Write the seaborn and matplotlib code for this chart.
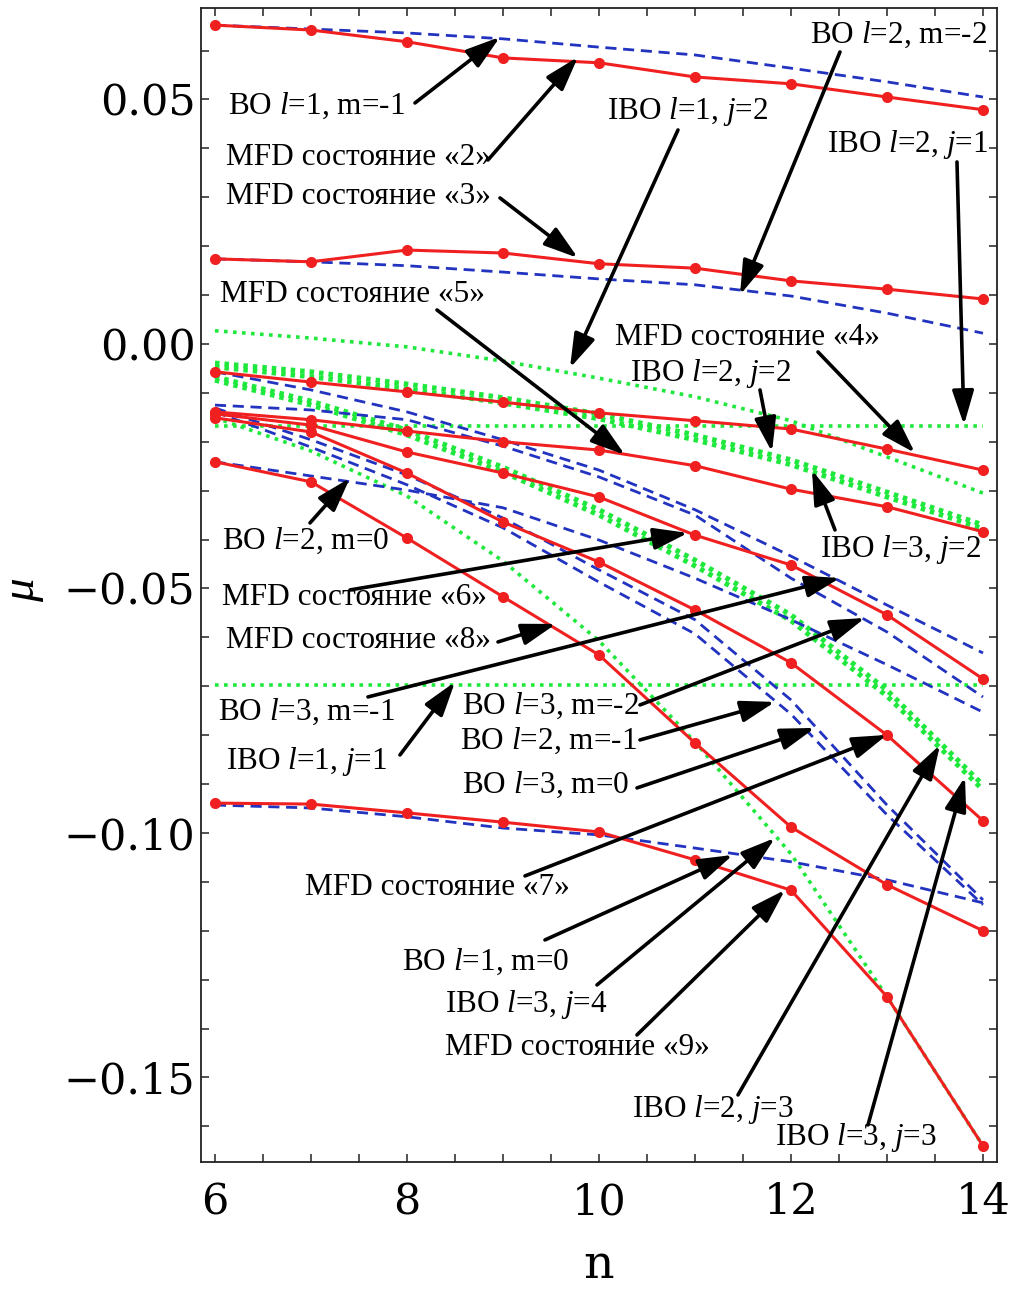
import numpy as np
import pandas as pd
import matplotlib
matplotlib.use("Agg")
import matplotlib.pyplot as plt
from matplotlib.ticker import MultipleLocator, FuncFormatter
import seaborn as sns

sns.set_theme(style="ticks")
plt.rcParams["font.family"] = ["Liberation Serif", "DejaVu Serif"]
plt.rcParams["mathtext.fontset"] = "custom"
plt.rcParams["mathtext.rm"] = "Liberation Serif"
plt.rcParams["mathtext.it"] = "Liberation Serif:italic"
plt.rcParams["text.color"] = "black"

# ---------------- data ----------------
n = [6, 7, 8, 9, 10, 11, 12, 13, 14]

# MFD states (red, markers)
mfd2 = [0.0652, 0.0642, 0.0618, 0.0585, 0.0575, 0.0546, 0.0532, 0.0505, 0.0479]
mfd3 = [0.0174, 0.0168, 0.0192, 0.0186, 0.0164, 0.0155, 0.0129, 0.0112, 0.0092]
mfd4 = [-0.0057, -0.0078, -0.0098, -0.0119, -0.0141, -0.0157, -0.0174, -0.0215, -0.0258]
mfd5 = [-0.0139, -0.0155, -0.0178, -0.0200, -0.0217, -0.0249, -0.0297, -0.0333, -0.0384]
mfd6 = [-0.0143, -0.0166, -0.0221, -0.0264, -0.0313, -0.0391, -0.0452, -0.0554, -0.0685]
mfd7 = [-0.0151, -0.0180, -0.0264, -0.0364, -0.0446, -0.0544, -0.0652, -0.0800, -0.0975]
mfd8 = [-0.0241, -0.0282, -0.0397, -0.0517, -0.0636, -0.0816, -0.0988, -0.1106, -0.1200]
mfd9 = [-0.0939, -0.0941, -0.0959, -0.0978, -0.0998, -0.1055, -0.1117, -0.1335, -0.1640]

# BO (blue dashed)
bo_l1_m1 = [0.0652, 0.0644, 0.0636, 0.0624, 0.0607, 0.0591, 0.0564, 0.0536, 0.0505]
bo_l2_m2 = [0.0174, 0.0168, 0.0160, 0.0147, 0.0133, 0.0121, 0.0098, 0.0063, 0.0022]
bo_l3_m1 = [-0.0057, -0.0094, -0.0139, -0.0196, -0.0258, -0.0339, -0.0434, -0.0534, -0.0632]
bo_l3_m2 = [-0.0125, -0.0135, -0.0155, -0.0209, -0.0272, -0.0350, -0.0479, -0.0589, -0.0722]
bo_l2_m0 = [-0.0241, -0.0270, -0.0299, -0.0335, -0.0401, -0.0479, -0.0564, -0.0656, -0.0753]
bo_l2_m1 = [-0.0131, -0.0196, -0.0268, -0.0356, -0.0462, -0.0564, -0.0728, -0.0943, -0.1137]
bo_l3_m0 = [-0.0139, -0.0211, -0.0288, -0.0376, -0.0487, -0.0593, -0.0757, -0.0963, -0.1147]
bo_l1_m0 = [-0.0943, -0.0949, -0.0967, -0.0990, -0.1004, -0.1031, -0.1059, -0.1096, -0.1143]

# IBO (green dotted)
ibo_l1_j2 = [0.0027, 0.0012, -0.0006, -0.0035, -0.0070, -0.0108, -0.0157, -0.0231, -0.0305]
ibo_l2_j1 = [-0.0168] * 9
ibo_l1_j1 = [-0.0697] * 9
ibo_l2_j2 = [-0.0039, -0.0057, -0.0082, -0.0110, -0.0143, -0.0186, -0.0237, -0.0303, -0.0370]
ibo_l3_j2 = [-0.0047, -0.0067, -0.0092, -0.0121, -0.0153, -0.0196, -0.0247, -0.0313, -0.0378]
ibo_l2_j3 = [-0.0067, -0.0117, -0.0176, -0.0252, -0.0339, -0.0442, -0.0554, -0.0708, -0.0902]
ibo_l3_j3 = [-0.0074, -0.0125, -0.0186, -0.0262, -0.0350, -0.0454, -0.0566, -0.0720, -0.0912]
ibo_l3_j4 = [-0.0151, -0.0219, -0.0311, -0.0444, -0.0607, -0.0814, -0.1043, -0.1335, -0.1640]

mfd_series = [mfd2, mfd3, mfd4, mfd5, mfd6, mfd7, mfd8, mfd9]
bo_series = [bo_l1_m1, bo_l2_m2, bo_l3_m1, bo_l3_m2, bo_l2_m0, bo_l2_m1, bo_l3_m0, bo_l1_m0]
ibo_thin = [ibo_l1_j2, ibo_l2_j1, ibo_l1_j1, ibo_l3_j4]
ibo_thick = [ibo_l2_j2, ibo_l3_j2, ibo_l2_j3, ibo_l3_j3]

# annotations: text, text left/center (ref px), arrow start (ref px), arrow tip (ref px)
annotations = [
    ("BO $l$=1, m=-1", (228, 106), (415, 103), (500, 37)),
    ("MFD состояние «2»", (226, 158), (488, 160), (578, 57)),
    ("MFD состояние «3»", (226, 197), (500, 198), (578, 258)),
    ("BO $l$=2, m=-2", (810, 35), (840, 52), (740, 295)),
    ("IBO $l$=1, $j$=2", (607, 112), (678, 130), (570, 368)),
    ("IBO $l$=2, $j$=1", (827, 145), (957, 162), (964, 425)),
    ("MFD состояние «5»", (220, 295), (437, 310), (625, 455)),
    ("MFD состояние «4»", (615, 338), (818, 352), (915, 453)),
    ("IBO $l$=2, $j$=2", (630, 374), (760, 390), (772, 452)),
    ("IBO $l$=3, $j$=2", (820, 550), (835, 530), (812, 470)),
    ("BO $l$=2, m=0", (222, 541), (310, 523), (350, 478)),
    ("MFD состояние «6»", (222, 598), (350, 590), (688, 533)),
    ("MFD состояние «8»", (226, 641), (498, 642), (556, 624)),
    ("BO $l$=3, m=-1", (218, 712), (368, 697), (840, 578)),
    ("IBO $l$=1, $j$=1", (226, 762), (400, 755), (455, 682)),
    ("BO $l$=3, m=-2", (462, 706), (640, 705), (865, 618)),
    ("BO $l$=2, m=-1", (460, 741), (640, 740), (775, 702)),
    ("BO $l$=3, m=0", (462, 785), (637, 788), (815, 728)),
    ("MFD состояние «7»", (305, 888), (525, 876), (887, 735)),
    ("BO $l$=1, m=0", (402, 962), (545, 940), (733, 855)),
    ("IBO $l$=3, $j$=4", (445, 1005), (597, 985), (775, 838)),
    ("MFD состояние «9»", (445, 1048), (637, 1035), (785, 890)),
    ("IBO $l$=2, $j$=3", (632, 1110), (738, 1095), (940, 745)),
    ("IBO $l$=3, $j$=3", (775, 1138), (868, 1125), (965, 777)),
]


def px2data(p):
    return 6 + (p[0] - 215) / 96.0, (344 - p[1]) / 4890.0


# ---------------- figure ----------------
fig = plt.figure(figsize=(10.16, 12.94), dpi=100)
ax = fig.add_axes([0.1978, 0.1020, 0.7835, 0.8918])

green = "#1ee83c"
blue = "#2233c0"
red = "#f02020"

for s in ibo_thin:
    sns.lineplot(x=n, y=s, ax=ax, color=green, lw=2.6, linestyle=(0, (1, 1.5)),
                 estimator=None, sort=False)
for s in ibo_thick:
    sns.lineplot(x=n, y=s, ax=ax, color=green, lw=3.6, linestyle=(0, (0.9, 1.0)),
                 estimator=None, sort=False)
for s in bo_series:
    sns.lineplot(x=n, y=s, ax=ax, color=blue, lw=2.0, linestyle=(0, (4, 2.4)),
                 estimator=None, sort=False)
for s in mfd_series:
    sns.lineplot(x=n, y=s, ax=ax, color=red, lw=2.2, marker="o", markersize=8,
                 markeredgewidth=0, estimator=None, sort=False)

ax.set_xlim(5.854, 14.146)
ax.set_ylim(-0.1673, 0.0687)

ax.xaxis.set_major_locator(MultipleLocator(2))
ax.xaxis.set_minor_locator(MultipleLocator(0.5))
ax.yaxis.set_major_locator(MultipleLocator(0.05))
ax.yaxis.set_minor_locator(MultipleLocator(0.01))


def yfmt(v, pos):
    if abs(v) < 1e-9:
        return "0.00"
    return f"{v:.2f}".replace("-", "\u2212")


ax.yaxis.set_major_formatter(FuncFormatter(yfmt))
ax.xaxis.set_major_formatter(FuncFormatter(lambda v, p: f"{v:.0f}"))

ax.tick_params(which="both", direction="in", top=True, right=True,
               length=6, width=1.1, color="#222222", labelcolor="black")
ax.tick_params(axis="y", which="major", pad=4)
ax.tick_params(axis="x", which="major", pad=14)
for lab in ax.get_xticklabels() + ax.get_yticklabels():
    lab.set_fontfamily("DejaVu Serif")
    lab.set_fontsize(31)

for sp in ax.spines.values():
    sp.set_linewidth(1.3)
    sp.set_color("#222222")

ax.set_xlabel("n", fontfamily="DejaVu Serif", fontsize=34, labelpad=14,
              color="black")
ax.set_ylabel(r"$\mu$", fontsize=34, color="black")
ax.yaxis.set_label_coords(-0.195, 0.496)

for text, tpos, start, tip in annotations:
    tx, ty = px2data(tpos)
    ax.text(tx, ty, text, fontsize=22.5, ha="left", va="center", color="black",
            zorder=6)
    ax.annotate("", xy=px2data(tip), xytext=px2data(start),
                arrowprops=dict(arrowstyle="-|>,head_length=0.95,head_width=0.3",
                                lw=2.6, color="black", shrinkA=0, shrinkB=0,
                                mutation_scale=22),
                zorder=7)

fig.savefig("out.png", dpi=100)
